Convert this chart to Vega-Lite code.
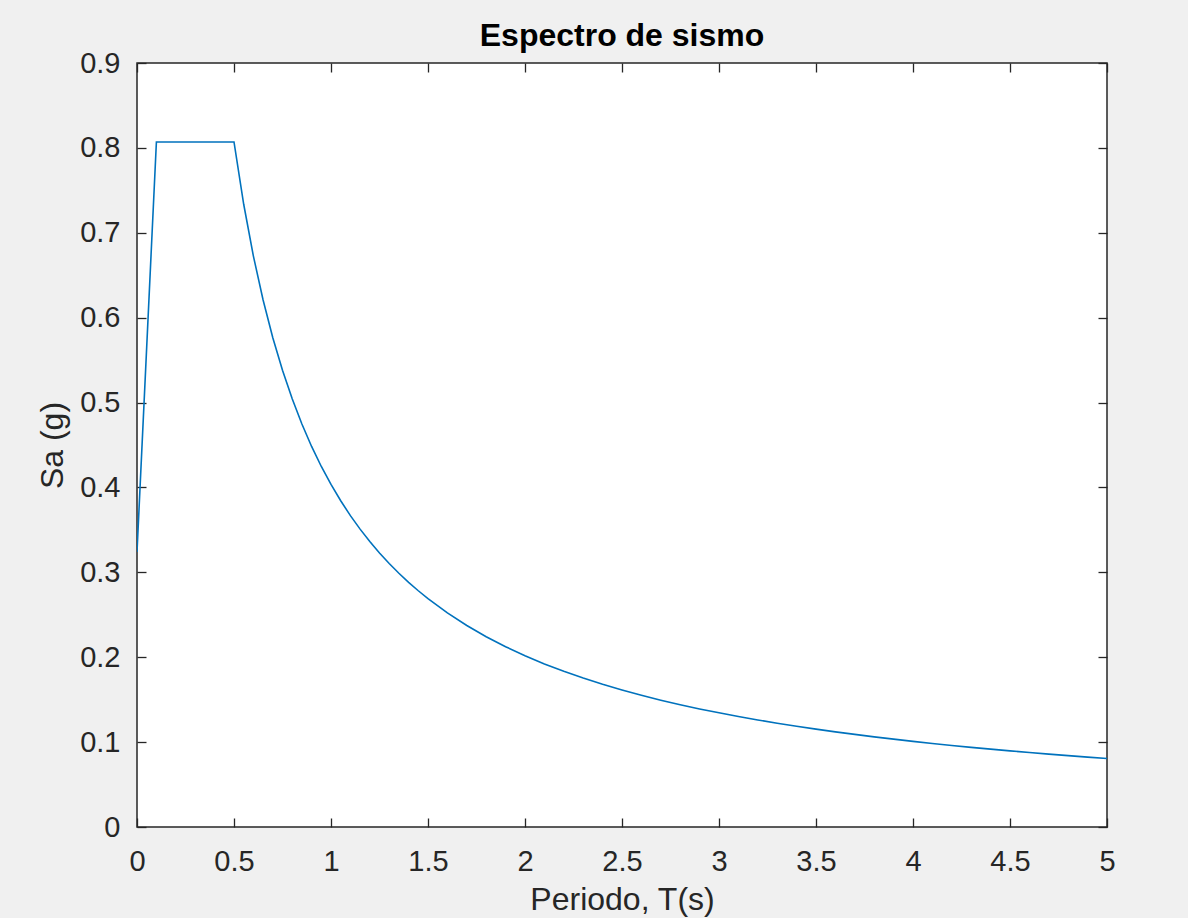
{
  "$schema": "https://vega.github.io/schema/vega-lite/v6.json",
  "autosize": "none",
  "width": 970,
  "height": 764,
  "padding": {"left": 137, "top": 63, "right": 81, "bottom": 91},
  "background": "#f0f0f0",
  "config": {
    "font": "Liberation Sans",
    "view": {"fill": "white", "stroke": "#262626", "strokeWidth": 1.5},
    "axis": {
      "domain": false,
      "grid": false,
      "tickSize": -9,
      "tickColor": "#262626",
      "tickWidth": 1.3,
      "labelColor": "#262626",
      "labelFont": "Liberation Sans",
      "labelFontSize": 29,
      "titleFont": "Liberation Sans",
      "titleFontSize": 32,
      "titleFontWeight": "normal",
      "titleColor": "#262626"
    }
  },
  "title": {
    "text": "Espectro de sismo",
    "font": "Liberation Sans",
    "fontSize": 32,
    "fontWeight": "bold",
    "color": "#000000",
    "anchor": "middle",
    "offset": -4
  },
  "data": {
    "values": [
      {"T": 0, "Sa": 0.324},
      {"T": 0.1, "Sa": 0.807},
      {"T": 0.5, "Sa": 0.807},
      {"T": 0.55, "Sa": 0.7336},
      {"T": 0.6, "Sa": 0.6725},
      {"T": 0.65, "Sa": 0.6208},
      {"T": 0.7, "Sa": 0.5764},
      {"T": 0.75, "Sa": 0.538},
      {"T": 0.8, "Sa": 0.5044},
      {"T": 0.85, "Sa": 0.4747},
      {"T": 0.9, "Sa": 0.4483},
      {"T": 0.95, "Sa": 0.4247},
      {"T": 1.0, "Sa": 0.4035},
      {"T": 1.05, "Sa": 0.3843},
      {"T": 1.1, "Sa": 0.3668},
      {"T": 1.15, "Sa": 0.3509},
      {"T": 1.2, "Sa": 0.3363},
      {"T": 1.25, "Sa": 0.3228},
      {"T": 1.3, "Sa": 0.3104},
      {"T": 1.35, "Sa": 0.2989},
      {"T": 1.4, "Sa": 0.2882},
      {"T": 1.45, "Sa": 0.2783},
      {"T": 1.5, "Sa": 0.269},
      {"T": 1.6, "Sa": 0.2522},
      {"T": 1.7, "Sa": 0.2374},
      {"T": 1.8, "Sa": 0.2242},
      {"T": 1.9, "Sa": 0.2124},
      {"T": 2.0, "Sa": 0.2018},
      {"T": 2.1, "Sa": 0.1921},
      {"T": 2.2, "Sa": 0.1834},
      {"T": 2.3, "Sa": 0.1754},
      {"T": 2.4, "Sa": 0.1681},
      {"T": 2.5, "Sa": 0.1614},
      {"T": 2.6, "Sa": 0.1552},
      {"T": 2.7, "Sa": 0.1494},
      {"T": 2.8, "Sa": 0.1441},
      {"T": 2.9, "Sa": 0.1391},
      {"T": 3.0, "Sa": 0.1345},
      {"T": 3.1, "Sa": 0.1302},
      {"T": 3.2, "Sa": 0.1261},
      {"T": 3.3, "Sa": 0.1223},
      {"T": 3.4, "Sa": 0.1187},
      {"T": 3.5, "Sa": 0.1153},
      {"T": 3.6, "Sa": 0.1121},
      {"T": 3.7, "Sa": 0.1091},
      {"T": 3.8, "Sa": 0.1062},
      {"T": 3.9, "Sa": 0.1035},
      {"T": 4.0, "Sa": 0.1009},
      {"T": 4.1, "Sa": 0.0984},
      {"T": 4.2, "Sa": 0.0961},
      {"T": 4.3, "Sa": 0.0938},
      {"T": 4.4, "Sa": 0.0917},
      {"T": 4.5, "Sa": 0.0897},
      {"T": 4.6, "Sa": 0.0877},
      {"T": 4.7, "Sa": 0.0859},
      {"T": 4.8, "Sa": 0.0841},
      {"T": 4.9, "Sa": 0.0823},
      {"T": 5.0, "Sa": 0.0807}
    ]
  },
  "layer": [
    {
      "mark": {"type": "line", "color": "#0072BD", "strokeWidth": 1.6, "clip": true},
      "encoding": {
        "x": {
          "field": "T", "type": "quantitative",
          "scale": {"domain": [0, 5], "nice": false, "zero": false},
          "axis": {"orient": "bottom", "title": "Periodo, T(s)", "format": "~g", "values": [0,0.5,1,1.5,2,2.5,3,3.5,4,4.5,5], "labelPadding": 29, "titlePadding": 8, "labelFlush": false, "labelOverlap": false}
        },
        "y": {
          "field": "Sa", "type": "quantitative",
          "scale": {"domain": [0, 0.9], "nice": false, "zero": false},
          "axis": {"orient": "left", "title": "Sa (g)", "format": "~g", "values": [0,0.1,0.2,0.3,0.4,0.5,0.6,0.7,0.8,0.9], "labelPadding": 26, "titlePadding": 10, "labelFlush": false, "labelOverlap": false}
        }
      }
    },
    {
      "mark": {"type": "line", "opacity": 0},
      "encoding": {
        "x": {
          "field": "T", "type": "quantitative",
          "scale": {"domain": [0, 5], "nice": false, "zero": false},
          "axis": {"orient": "top", "title": null, "labels": false, "values": [0,0.5,1,1.5,2,2.5,3,3.5,4,4.5,5]}
        },
        "y": {
          "field": "Sa", "type": "quantitative",
          "scale": {"domain": [0, 0.9], "nice": false, "zero": false},
          "axis": {"orient": "right", "title": null, "labels": false, "values": [0,0.1,0.2,0.3,0.4,0.5,0.6,0.7,0.8,0.9]}
        }
      }
    }
  ],
  "resolve": {"axis": {"x": "independent", "y": "independent"}}
}
